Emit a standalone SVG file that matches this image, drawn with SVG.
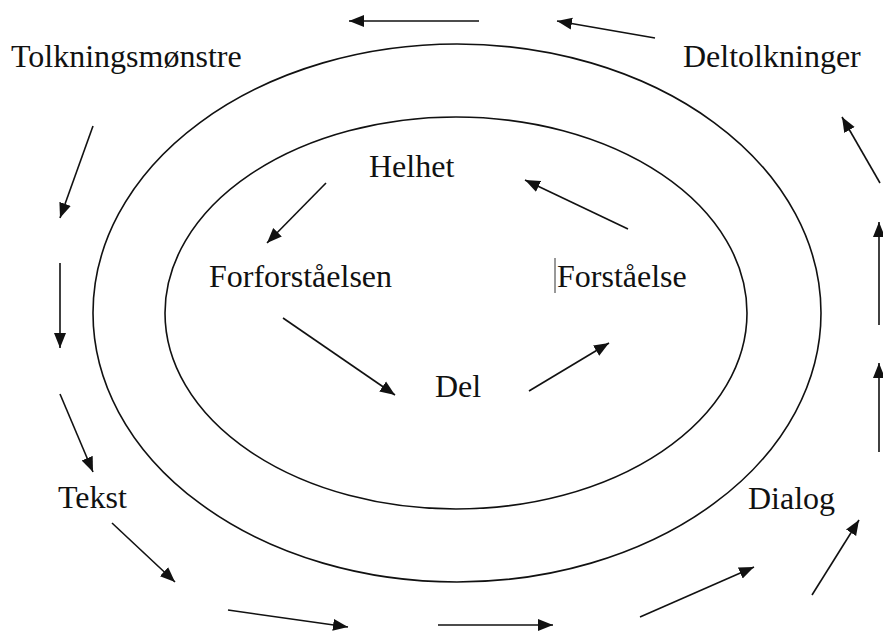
<svg xmlns="http://www.w3.org/2000/svg" width="883" height="632" viewBox="0 0 883 632">
<style>
.ring{fill:none;stroke:#111;stroke-width:1.6}
.lbl{font-family:"Liberation Serif","Times New Roman",serif;font-size:32px;fill:#111}
.arr{stroke:#111;stroke-width:1.6;fill:none;marker-end:url(#ah)}
</style>
<defs>
<marker id="ah" markerUnits="userSpaceOnUse" markerWidth="16" markerHeight="13" refX="15" refY="6.5" orient="auto">
<path d="M0,0.5 L15,6.5 L0,12.5 z" fill="#111"/>
</marker>
</defs>
<rect width="883" height="632" fill="#fff"/>
<g id="rings">
<ellipse id="outer" class="ring" cx="457" cy="313" rx="364" ry="269"/>
<ellipse id="inner" class="ring" cx="456" cy="313" rx="291" ry="196"/>
</g>
<g id="n-tolkningsmonstre"><text class="lbl" x="11" y="67">Tolkningsmønstre</text></g>
<g id="n-deltolkninger"><text class="lbl" x="683" y="67">Deltolkninger</text></g>
<g id="n-helhet"><text class="lbl" x="369" y="177">Helhet</text></g>
<g id="n-forforstaelsen"><text class="lbl" x="209" y="287">Forforståelsen</text></g>
<g id="n-forstaelse"><line x1="555" y1="258" x2="555" y2="293" stroke="#333" stroke-width="1"/><text class="lbl" x="557" y="287">Forståelse</text></g>
<g id="n-del"><text class="lbl" x="435" y="397">Del</text></g>
<g id="n-tekst"><text class="lbl" x="58" y="508">Tekst</text></g>
<g id="n-dialog"><text class="lbl" x="748" y="509">Dialog</text></g>
<g id="connectors">
<line class="arr" x1="479" y1="21" x2="349" y2="21"/>
<line class="arr" x1="655" y1="38" x2="557" y2="21"/>
<line class="arr" x1="93" y1="126" x2="60" y2="218"/>
<line class="arr" x1="60" y1="263" x2="60" y2="348"/>
<line class="arr" x1="60" y1="394" x2="93" y2="472"/>
<line class="arr" x1="112" y1="523" x2="175" y2="582"/>
<line class="arr" x1="228" y1="610" x2="348" y2="627"/>
<line class="arr" x1="438" y1="625" x2="553" y2="625"/>
<line class="arr" x1="640" y1="617" x2="754" y2="567"/>
<line class="arr" x1="812" y1="595" x2="859" y2="520"/>
<line class="arr" x1="879" y1="452" x2="879" y2="363"/>
<line class="arr" x1="879" y1="325" x2="879" y2="222"/>
<line class="arr" x1="880" y1="183" x2="842" y2="117"/>
<line class="arr" x1="326" y1="183" x2="267" y2="243"/>
<line class="arr" x1="283" y1="318" x2="395" y2="395"/>
<line class="arr" x1="529" y1="391" x2="609" y2="343"/>
<line class="arr" x1="628" y1="229" x2="525" y2="180"/>
</g>
</svg>
